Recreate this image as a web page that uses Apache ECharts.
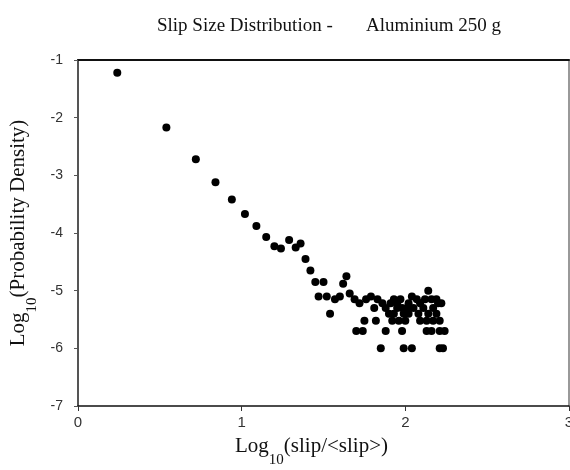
<!DOCTYPE html>
<html>
<head>
<meta charset="utf-8">
<script src="https://cdn.jsdelivr.net/npm/echarts@6/dist/echarts.min.js"></script>
<style>
  html, body { margin: 0; padding: 0; background: #fff; }
  #chart { width: 570px; height: 470px; }
</style>
</head>
<body>
<div id="chart"></div>
<script>
// log10(slip/<slip>) values
const slipX = [
  0.24, 0.54, 0.72, 0.84, 0.94, 1.02, 1.09, 1.15, 1.20, 1.24,
  1.29, 1.33, 1.36, 1.39, 1.42, 1.45, 1.50, 1.47, 1.52, 1.54,
  1.57, 1.60, 1.62, 1.64, 1.66, 1.69, 1.72, 1.76, 1.79, 1.81,
  1.83, 1.86, 1.88, 1.93, 1.90, 1.95, 1.98, 2.01, 2.04, 2.07,
  2.09, 2.12, 2.14, 2.16, 2.19, 2.14, 2.19, 1.75, 1.82, 1.92,
  1.96, 2.00, 2.09, 2.13, 1.70, 1.74, 1.88, 1.98, 2.13, 2.16,
  2.21, 2.24, 1.85, 1.99, 2.04, 2.21, 2.23,
  1.91, 1.95, 1.97, 2.02, 2.05, 2.08, 2.11, 2.17, 2.20, 2.22,
  1.93, 1.99, 2.02, 2.17, 2.21
];
// log10(probability density) values
const densityY = [
  -1.22, -2.17, -2.72, -3.12, -3.42, -3.67, -3.88, -4.07, -4.23, -4.27,
  -4.12, -4.25, -4.18, -4.45, -4.65, -4.85, -4.85, -5.10, -5.10, -5.40,
  -5.15, -5.10, -4.88, -4.75, -5.05, -5.15, -5.22, -5.15, -5.10, -5.30,
  -5.15, -5.22, -5.30, -5.15, -5.40, -5.30, -5.30, -5.30, -5.10, -5.15,
  -5.22, -5.15, -5.00, -5.15, -5.15, -5.40, -5.40, -5.52, -5.52, -5.52,
  -5.52, -5.52, -5.52, -5.52, -5.70, -5.70, -5.70, -5.70, -5.70, -5.70,
  -5.70, -5.70, -6.00, -6.00, -6.00, -6.00, -6.00,
  -5.22, -5.22, -5.15, -5.22, -5.30, -5.40, -5.30, -5.30, -5.22, -5.22,
  -5.40, -5.40, -5.40, -5.52, -5.52
];
const xTicks = [0, 1, 2, 3];
const yTicks = [-7, -6, -5, -4, -3, -2, -1];

const points = slipX.map((x, i) => [x, densityY[i]]);

const serif = '"Liberation Serif", "DejaVu Serif", serif';
const sans = '"Liberation Sans", Arial, sans-serif';

let chart = echarts.init(document.getElementById('chart'), null, { renderer: 'canvas' });

//下标用的富文本样式
const nameRich = {
  a: { fontFamily: serif, fontSize: 21, color: '#111', verticalAlign: 'top', lineHeight: 22 },
  b: { fontFamily: serif, fontSize: 15, color: '#111', verticalAlign: 'top', lineHeight: 15, padding: [17, 0, 0, 0] }
};

const option = {
  backgroundColor: '#fff',
  animation: false,
  title: {
    text: 'Slip Size Distribution -       Aluminium 250 g',
    left: 152,
    top: 12,
    textStyle: { fontFamily: serif, fontSize: 19, fontWeight: 'normal', color: '#111' }
  },
  grid: { left: 78, right: 1, top: 60, bottom: 64, outerBoundsMode: 'none' },
  xAxis: [{
    type: 'value',
    min: xTicks[0],
    max: xTicks[xTicks.length - 1],
    interval: 1,
    position: 'bottom',
    axisLine: { onZero: false, lineStyle: { color: '#111', width: 1.5 } },
    axisTick: { show: true, length: 5, lineStyle: { color: '#333' } },
    axisLabel: { fontFamily: sans, fontSize: 15, color: '#333', margin: 9 },
    splitLine: { show: false },
    name: '{a|Log}{b|10}{a|(slip/<slip>)}',
    nameLocation: 'middle',
    nameGap: 30,
    nameTextStyle: { verticalAlign: 'top', padding: [0, 24, 0, 0], rich: nameRich }
  }, {
    type: 'value',
    min: 0, max: 3,
    position: 'top',
    axisLine: { onZero: false, lineStyle: { color: '#111', width: 2 } },
    axisTick: { show: false },
    axisLabel: { show: false },
    splitLine: { show: false }
  }],
  yAxis: [{
    type: 'value',
    min: yTicks[0],
    max: yTicks[yTicks.length - 1],
    interval: 1,
    position: 'left',
    axisLine: { show: true, onZero: false, lineStyle: { color: '#555', width: 2 } },
    axisTick: { show: true, length: 4, lineStyle: { color: '#555' } },
    axisLabel: { fontFamily: sans, fontSize: 14, color: '#333', margin: 15 },
    splitLine: { show: false },
    name: '{a|Log}{b|10}{a|(Probability Density)}',
    nameLocation: 'middle',
    nameRotate: 90,
    nameGap: 48,
    nameTextStyle: { rich: nameRich }
  }, {
    type: 'value',
    min: -7, max: -1,
    position: 'right',
    axisLine: { show: true, onZero: false, lineStyle: { color: '#777', width: 1.5 } },
    axisTick: { show: false },
    axisLabel: { show: false },
    splitLine: { show: false }
  }],
  series: [{
    type: 'scatter',
    data: points,
    symbol: 'circle',
    symbolSize: 8,
    itemStyle: { color: '#000', opacity: 1 }
  }]
};

chart.setOption(option);
</script>
</body>
</html>
